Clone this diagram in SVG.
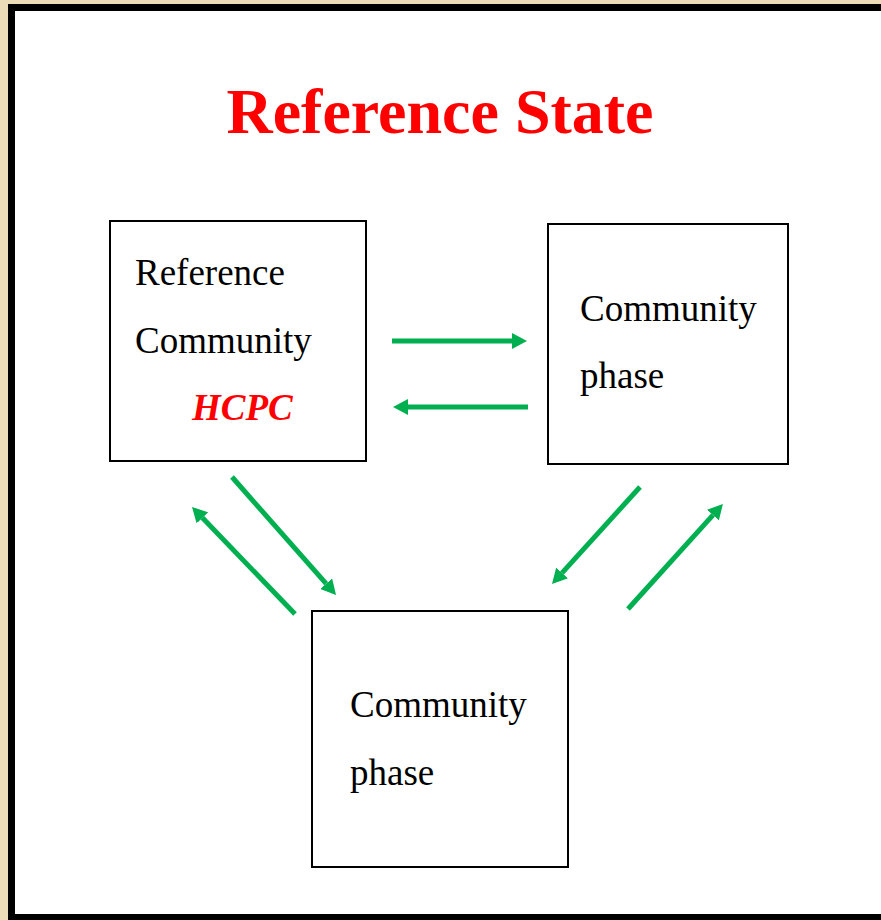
<svg xmlns="http://www.w3.org/2000/svg" width="881" height="920" viewBox="0 0 881 920">
  <style>
    .box { fill: #ffffff; stroke: #000000; stroke-width: 2; }
    .lbl { font-family: "Liberation Serif", "Times New Roman", serif; font-size: 37px; fill: #000000; }
    .hcpc { font-family: "Liberation Serif", "Times New Roman", serif; font-size: 37px; font-weight: bold; font-style: italic; fill: #ff0000; }
    .title { font-family: "Liberation Serif", "Times New Roman", serif; font-size: 64px; font-weight: bold; fill: #ff0000; }
    .arrow { fill: none; stroke: #00b050; stroke-width: 5; marker-end: url(#ah); }
  </style>
  <defs>
    <marker id="ah" markerUnits="userSpaceOnUse" markerWidth="15" markerHeight="16" viewBox="0 0 15 16" refX="0" refY="8" orient="auto">
      <path d="M0,0 L15,8 L0,16 z" fill="#00b050"/>
    </marker>
  </defs>
  <rect x="0" y="0" width="881" height="920" fill="#ecdcb8"/>
  <rect x="8" y="4" width="880" height="920" fill="#000000"/>
  <rect x="15" y="11" width="870" height="903" fill="#ffffff"/>

  <text class="title" x="440" y="133" text-anchor="middle">Reference State</text>

  <g id="node-reference">
    <rect class="box" x="110" y="221" width="256" height="240"/>
    <text class="lbl" x="135" y="285">Reference</text>
    <text class="lbl" x="135" y="353">Community</text>
    <text class="hcpc" x="192" y="420">HCPC</text>
  </g>
  <g id="node-phase-right">
    <rect class="box" x="548" y="224" width="240" height="240"/>
    <text class="lbl" x="580" y="321">Community</text>
    <text class="lbl" x="580" y="388">phase</text>
  </g>
  <g id="node-phase-bottom">
    <rect class="box" x="312" y="611" width="256" height="256"/>
    <text class="lbl" x="350" y="717">Community</text>
    <text class="lbl" x="350" y="785">phase</text>
  </g>

  <g id="connectors">
    <path class="arrow" d="M392,341 L512,341"/>
    <path class="arrow" d="M528,407 L408,407"/>
    <path class="arrow" d="M232,477 L326.1,583.7"/>
    <path class="arrow" d="M295,614 L202.4,517.8"/>
    <path class="arrow" d="M640,487 L562.1,572.9"/>
    <path class="arrow" d="M628,609 L712.9,515.1"/>
  </g>
</svg>
